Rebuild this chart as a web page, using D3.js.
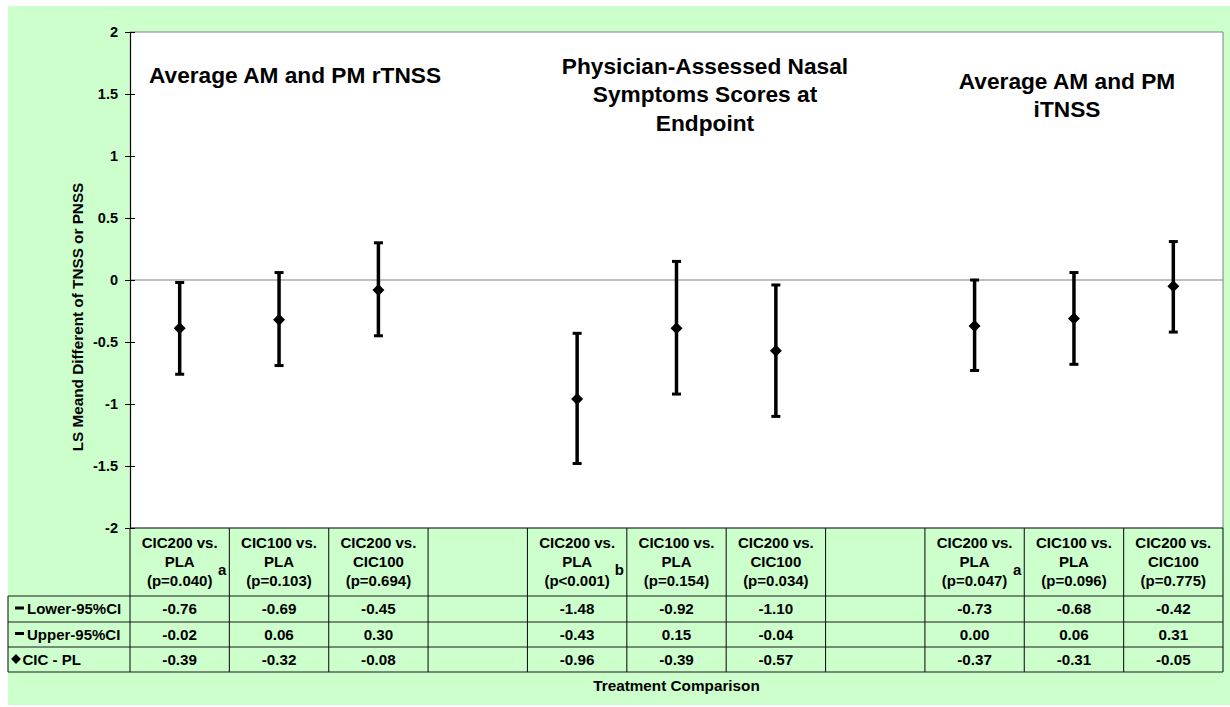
<!DOCTYPE html>
<html>
<head>
<meta charset="utf-8">
<script src="https://cdn.jsdelivr.net/npm/d3@7"></script>
<style>
  html, body { margin: 0; padding: 0; background: #ffffff; }
  svg { display: block; }
  text { font-family: "Liberation Sans", Arial, Helvetica, sans-serif; font-weight: bold; fill: #000; }
</style>
</head>
<body>
<svg id="chart" width="1230" height="707"></svg>
<script>
// Treatment comparisons (one column per comparison; empty columns separate the three outcomes)
const comparisonLine1 = ["CIC200 vs.", "CIC100 vs.", "CIC200 vs.", "", "CIC200 vs.", "CIC100 vs.", "CIC200 vs.", "", "CIC200 vs.", "CIC100 vs.", "CIC200 vs."];
const comparisonLine2 = ["PLA", "PLA", "CIC100", "", "PLA", "PLA", "CIC100", "", "PLA", "PLA", "CIC100"];
const pValueLabels    = ["(p=0.040)", "(p=0.103)", "(p=0.694)", "", "(p<0.001)", "(p=0.154)", "(p=0.034)", "", "(p=0.047)", "(p=0.096)", "(p=0.775)"];
const footnoteMarks   = ["a", "", "", "", "b", "", "", "", "a", "", ""];

// LS mean differences with 95% confidence limits
const lower95    = [-0.76, -0.69, -0.45, null, -1.48, -0.92, -1.10, null, -0.73, -0.68, -0.42];
const upper95    = [-0.02,  0.06,  0.30, null, -0.43,  0.15, -0.04, null,  0.00,  0.06,  0.31];
const lsMeanDiff = [-0.39, -0.32, -0.08, null, -0.96, -0.39, -0.57, null, -0.37, -0.31, -0.05];

const seriesNames = ["Lower-95%CI", "Upper-95%CI", "CIC - PL"];
const yTickValues = [2, 1.5, 1, 0.5, 0, -0.5, -1, -1.5, -2];
const panelTitles = [
  ["Average AM and PM rTNSS"],
  ["Physician-Assessed Nasal", "Symptoms Scores at", "Endpoint"],
  ["Average AM and PM", "iTNSS"]
];
const yAxisTitle = "LS Meand Different of TNSS or PNSS";
const xAxisTitle = "Treatment Comparison";

// ---- layout ----
const W = 1230, H = 707;
const plot = { left: 130, right: 1223, top: 32, bottom: 528 };
const rowEdges = [596, 622, 647, 672];
const tableLeft = 8;

const svg = d3.select("#chart");

const x = d3.scaleBand()
  .domain(d3.range(comparisonLine1.length))
  .range([plot.left, plot.right])
  .paddingInner(0).paddingOuter(0);
const y = d3.scaleLinear().domain([-2, 2]).range([plot.bottom, plot.top]);
const cx = i => x(i) + x.bandwidth() / 2;

// chart background
svg.append("rect").attr("x", 8).attr("y", 6).attr("width", W - 8).attr("height", H - 8)
  .attr("fill", "#ccffcc");

// plot area
svg.append("rect").attr("x", plot.left).attr("y", plot.top)
  .attr("width", plot.right - plot.left).attr("height", plot.bottom - plot.top)
  .attr("fill", "#ffffff");

// plot border (top & right)
svg.append("path")
  .attr("d", `M${plot.left},${plot.top}H${plot.right}V${plot.bottom}`)
  .attr("fill", "none").attr("stroke", "#808080").attr("stroke-width", 1);

// zero reference line
svg.append("line")
  .attr("x1", plot.left).attr("x2", plot.right)
  .attr("y1", y(0)).attr("y2", y(0))
  .attr("stroke", "#808080").attr("stroke-width", 1.2);

// panel titles
const titleX = [295, 705, 1067];
const titleBase = [83, 73.5, 88.5];
panelTitles.forEach((lines, k) => {
  const t = svg.append("text")
    .attr("text-anchor", "middle")
    .attr("font-size", 22.7);
  lines.forEach((ln, j) => {
    t.append("tspan").attr("x", titleX[k]).attr("y", titleBase[k] + j * 28.7).text(ln);
  });
});

// error bars (high-low lines with dash caps) and point estimates
const idx = d3.range(lsMeanDiff.length).filter(i => lsMeanDiff[i] !== null);
const marks = svg.append("g");
marks.selectAll("line.range").data(idx).join("line")
  .attr("class", "range")
  .attr("x1", cx).attr("x2", cx)
  .attr("y1", i => y(lower95[i])).attr("y2", i => y(upper95[i]))
  .attr("stroke", "#000").attr("stroke-width", 3.5);
const capHalf = 4.5;
[lower95, upper95].forEach(arr => {
  marks.selectAll(null).data(idx).join("line")
    .attr("x1", i => cx(i) - capHalf).attr("x2", i => cx(i) + capHalf)
    .attr("y1", i => y(arr[i])).attr("y2", i => y(arr[i]))
    .attr("stroke", "#000").attr("stroke-width", 3);
});
const diamond = d3.symbol(d3.symbolSquare, 72);
marks.selectAll("path.est").data(idx).join("path")
  .attr("class", "est")
  .attr("d", diamond)
  .attr("transform", i => `translate(${cx(i)},${y(lsMeanDiff[i])}) rotate(45)`)
  .attr("fill", "#000");

// y axis
const yAxis = svg.append("g")
  .attr("transform", `translate(${plot.left},0)`)
  .call(d3.axisLeft(y).tickValues(yTickValues).tickFormat(d => String(d))
    .tickSize(5).tickSizeOuter(0).tickPadding(7));
yAxis.attr("font-size", 14.5);
yAxis.select(".domain").attr("stroke", "#000").attr("stroke-width", 1.2);
yAxis.selectAll(".tick line").attr("x1", 5).attr("x2", -5).attr("stroke", "#000");

// y axis title
svg.append("text")
  .attr("transform", `translate(83,317) rotate(-90)`)
  .attr("text-anchor", "middle")
  .attr("font-size", 15.3)
  .text(yAxisTitle);

// ---- data table ----
const grid = svg.append("g").attr("stroke", "#1a1a1a").attr("stroke-width", 1.1).attr("fill", "none");
// plot bottom / table top
grid.append("line").attr("x1", plot.left).attr("x2", plot.right).attr("y1", plot.bottom).attr("y2", plot.bottom).attr("stroke", "#000");
rowEdges.forEach(ry => {
  grid.append("line").attr("x1", tableLeft).attr("x2", plot.right).attr("y1", ry).attr("y2", ry);
});
grid.append("line").attr("x1", tableLeft).attr("x2", tableLeft).attr("y1", rowEdges[0]).attr("y2", rowEdges[3]);
d3.range(comparisonLine1.length + 1).forEach(i => {
  const vx = i < comparisonLine1.length ? x(i) : plot.right;
  grid.append("line").attr("x1", vx).attr("x2", vx).attr("y1", plot.bottom).attr("y2", rowEdges[3]);
});

// column headers
const header = svg.append("g").attr("text-anchor", "middle").attr("font-size", 15);
d3.range(comparisonLine1.length).forEach(i => {
  if (!comparisonLine1[i]) return;
  header.append("text").attr("x", cx(i)).attr("y", 548).text(comparisonLine1[i]);
  header.append("text").attr("x", cx(i)).attr("y", 567).text(comparisonLine2[i]);
  header.append("text").attr("x", cx(i)).attr("y", 586).text(pValueLabels[i]);
  if (footnoteMarks[i]) {
    header.append("text").attr("x", x(i) + x.bandwidth() - 3).attr("y", 575)
      .attr("text-anchor", "end").text(footnoteMarks[i]);
  }
});

// table values
const rows = [lower95, upper95, lsMeanDiff];
rows.forEach((arr, r) => {
  const mid = (rowEdges[r] + rowEdges[r + 1]) / 2;
  svg.append("g").attr("text-anchor", "middle").attr("font-size", 15.2)
    .selectAll("text").data(idx).join("text")
    .attr("x", cx).attr("y", mid + 5.3)
    .text(i => arr[i].toFixed(2));
});

// row labels with legend keys
rows.forEach((arr, r) => {
  const mid = (rowEdges[r] + rowEdges[r + 1]) / 2;
  if (r < 2) {
    svg.append("line").attr("x1", 15).attr("x2", 24).attr("y1", mid - 1).attr("y2", mid - 1)
      .attr("stroke", "#000").attr("stroke-width", 3);
    svg.append("text").attr("x", 27).attr("y", mid + 5.3).attr("font-size", 15).text(seriesNames[r]);
  } else {
    svg.append("path").attr("d", d3.symbol(d3.symbolSquare, 48))
      .attr("transform", `translate(16,${mid - 0.5}) rotate(45)`).attr("fill", "#000");
    svg.append("text").attr("x", 22.5).attr("y", mid + 5.3).attr("font-size", 15).text(seriesNames[r]);
  }
});

// x axis title
svg.append("text")
  .attr("x", (plot.left + plot.right) / 2).attr("y", 690.5)
  .attr("text-anchor", "middle").attr("font-size", 15.3)
  .text(xAxisTitle);
</script>
</body>
</html>
